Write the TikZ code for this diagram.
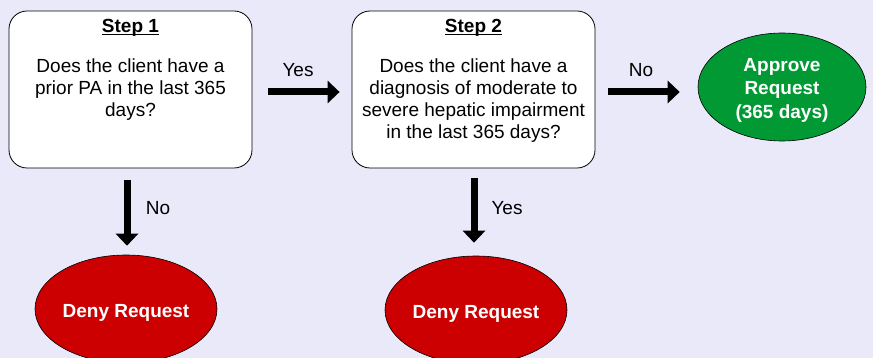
\documentclass[tikz,border=0pt]{standalone}
\usepackage{fontspec}
\setmainfont{Liberation Sans}
\usetikzlibrary{arrows.meta,shapes.geometric}
\definecolor{bg}{RGB}{233,233,250}
\definecolor{okgreen}{RGB}{0,153,51}
\definecolor{denyred}{RGB}{204,0,0}
\newcommand{\ulin}[1]{\setbox0\hbox{#1}\rlap{\rule[-2.4pt]{\wd0}{1.3pt}}\box0}
\tikzset{
 qbox/.style={draw=black, line width=0.8pt, fill=white, rounded corners=18pt, minimum width=243pt, minimum height=157pt, inner sep=0pt},
 qtext/.style={align=center, inner sep=0pt, anchor=north, font=\fontsize{19}{21.8}\selectfont},
 steptitle/.style={inner sep=0pt, anchor=base, font=\fontsize{19}{22}\selectfont\bfseries},
 endnode/.style={ellipse, draw=black, line width=0.6pt, inner sep=0pt},
 endtext/.style={inner sep=0pt, text=white, align=center, font=\fontsize{19}{23.5}\selectfont\bfseries},
 flow/.style={line width=7pt, -{Triangle[width=22pt,length=12pt]}},
 lbl/.style={font=\fontsize{19}{22}\selectfont, inner sep=0pt}
}
\begin{document}
\begin{tikzpicture}[x=1pt,y=-1pt]
\fill[bg] (0,0) rectangle (873,358);
\useasboundingbox (0,0) rectangle (873,358);
\clip (0,0) rectangle (873,358);
\node[qbox] (s1) at (130.5,89.5) {};
\node[qbox] (s2) at (473.5,89.5) {};
\node[steptitle] (h1) at (130.5,33) {\ulin{Step 1}};
\node[steptitle] (h2) at (473.5,33) {\ulin{Step 2}};
\node[qtext] (q1) at (130.5,59) {Does the client have a\\prior PA in the last 365\\days?};
\node[qtext] (q2) at (473.5,59) {Does the client have a\\diagnosis of moderate to\\severe hepatic impairment\\in the last 365 days?};
\node[endnode, fill=okgreen, minimum width=168pt, minimum height=108pt] (ap) at (782,87) {};
\node[endtext] (apt) at (782,90) {Approve\\Request\\(365 days)};
\node[endnode, fill=denyred, minimum width=182pt, minimum height=108pt] (d1) at (126,309) {};
\node[endtext] (d1t) at (126,313) {Deny Request};
\node[endnode, fill=denyred, minimum width=182pt, minimum height=108pt] (d2) at (476,310) {};
\node[endtext] (d2t) at (476,313.5) {Deny Request};
\draw[flow, shorten <=16pt, shorten >=12pt] ([yshift=-2.5pt]s1.east) -- ([yshift=-2.5pt]s2.west);
\draw[flow, shorten <=13pt, shorten >=18pt] ([yshift=-2.5pt]s2.east) -- ([yshift=-2.5pt]s2.east -| ap.west);
\draw[flow, shorten <=12pt, shorten >=9pt] ([xshift=-3.5pt]s1.south) -- ([xshift=1pt]d1.north);
\draw[flow, shorten <=10pt, shorten >=13pt] ([xshift=0.5pt]s2.south) -- ([xshift=-2pt]d2.north);
\node[lbl] (l1) at (298,70) {Yes};
\node[lbl] (l2) at (641,70) {No};
\node[lbl] (l3) at (158,208) {No};
\node[lbl] (l4) at (507,208) {Yes};
\end{tikzpicture}
\end{document}
